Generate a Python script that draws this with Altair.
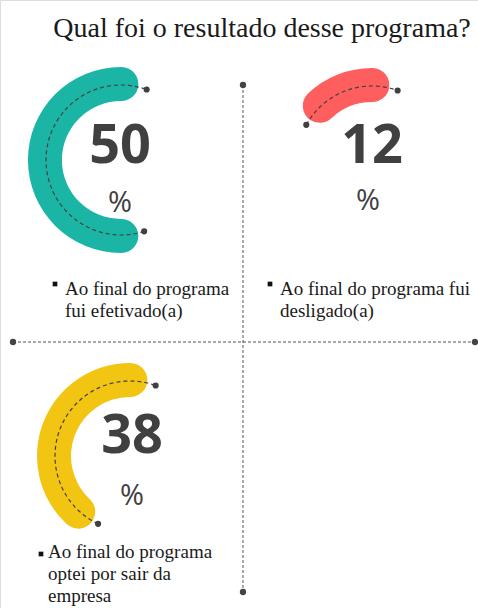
import math
import numpy as np
import pandas as pd
import altair as alt

# ---- data ----
labels = [
    "Ao final do programa\nfui efetivado(a)",
    "Ao final do programa fui\ndesligado(a)",
    "Ao final do programa\noptei por sair da\nempresa",
]
values = [50, 12, 38]
colors = ["#1ab5a5", "#ff5e5e", "#f2c512"]
title_text = "Qual foi o resultado desse programa?"

# ---- layout (pixels) ----
W, H = 478, 608
center_x = [121, 372, 130]
center_y = [160, 161, 456]
num_x = [120, 372, 132]
num_y = [163, 163, 453]
pct_x = [120, 368, 132]
pct_y = [212, 210, 505]
bullet_x = [55, 270, 41]
bullet_y = [284, 284, 554]
label_x = [65, 280, 48]
label_y = [295, 295, 558]
R_OUT, R_IN, R_DASH = 93, 59, 75

xs = alt.Scale(domain=[0, W], range=[0, W], nice=False, zero=False)
ys = alt.Scale(domain=[H, 0], nice=False, zero=False)
X = lambda f: alt.X(f, type="quantitative", scale=xs, axis=None)
Y = lambda f: alt.Y(f, type="quantitative", scale=ys, axis=None)

g = pd.DataFrame({
    "value": values, "color": colors, "label": labels,
    "cx": center_x, "cy": center_y,
    "nx": num_x, "ny": num_y, "px": pct_x, "py": pct_y,
    "bx": bullet_x, "by": bullet_y, "lx": label_x, "ly": label_y,
})
g["start"] = 100 - g["value"]
g["end"] = 100
g["num"] = g["value"].astype(str)
g["pct"] = "%"

# thick gauge arcs (theta from value)
arcs = alt.Chart(g).mark_arc(
    radius=R_OUT, radius2=R_IN, cornerRadius=17,
    thetaOffset=-0.23, theta2Offset=0.23,
).encode(
    theta=alt.Theta("start:Q", stack=False,
                    scale=alt.Scale(domain=[0, 100], range=[0, 2 * math.pi])),
    theta2="end:Q",
    x=X("cx"), y=Y("cy"),
    color=alt.Color("color:N", scale=None),
)

# dashed inner arcs derived from the value
rows, dots = [], []
for k, (v, cx, cy) in enumerate(zip(values, center_x, center_y)):
    a0 = 360 - v * 3.6 - 18
    a1 = 380
    ang = np.radians(np.linspace(a0, a1, 80))
    for i, a in enumerate(ang):
        rows.append({"g": k, "i": i, "x": cx + R_DASH * math.sin(a), "y": cy - R_DASH * math.cos(a)})
    for a in (ang[0], ang[-1]):
        dots.append({"x": cx + R_DASH * math.sin(a), "y": cy - R_DASH * math.cos(a)})
dash_df = pd.DataFrame(rows)
dot_df = pd.DataFrame(dots)

dash_arcs = alt.Chart(dash_df).mark_line(
    strokeDash=[4, 3], strokeWidth=1.2, color="#404040"
).encode(x=X("x"), y=Y("y"), detail="g:N", order="i:Q")

dash_dots = alt.Chart(dot_df).mark_circle(size=38, color="#404040", opacity=1).encode(
    x=X("x"), y=Y("y"))

# cross lines
cross = pd.DataFrame({"x": [243, 13], "y": [85, 342], "x2": [243, 475], "y2": [592, 342]})
cross_lines = alt.Chart(cross).mark_rule(
    strokeDash=[3, 2], strokeWidth=1, color="#555555"
).encode(x=X("x"), y=Y("y"), x2="x2:Q", y2="y2:Q")
cross_pts = pd.DataFrame({"x": [243, 243, 13, 475], "y": [85, 592, 342, 342]})
cross_dots = alt.Chart(cross_pts).mark_circle(size=40, color="#444444", opacity=1).encode(
    x=X("x"), y=Y("y"))

nums = alt.Chart(g).mark_text(
    font="Open Sans", fontWeight="bold", fontSize=54, color="#404040",
    align="center", baseline="alphabetic",
).encode(x=X("nx"), y=Y("ny"), text="num:N")

pcts = alt.Chart(g).mark_text(
    font="Open Sans", fontSize=29, color="#404040",
    align="center", baseline="alphabetic",
).encode(x=X("px"), y=Y("py"), text="pct:N")

bullets = alt.Chart(g).mark_square(size=22, color="#111111", opacity=1).encode(
    x=X("bx"), y=Y("by"))

label_txt = alt.Chart(g).mark_text(
    font="Liberation Serif", fontSize=19, color="#1a1a1a",
    align="left", baseline="alphabetic", lineBreak="\n", lineHeight=22,
).encode(x=X("lx"), y=Y("ly"), text="label:N")

title = alt.Chart(pd.DataFrame({"t": [title_text], "x": [262], "y": [37]})).mark_text(
    font="Liberation Serif", fontSize=28, color="#1a1a1a",
    align="center", baseline="alphabetic",
).encode(x=X("x"), y=Y("y"), text="t:N")

chart = alt.layer(
    cross_lines, cross_dots, arcs, dash_arcs, dash_dots,
    nums, pcts, bullets, label_txt, title,
).properties(
    width=W, height=H, padding=0, autosize=alt.AutoSizeParams(type="none"),
).configure_view(stroke=None).configure(background="white")

chart.save("out.html", embed_options={"renderer": "svg", "actions": False})
